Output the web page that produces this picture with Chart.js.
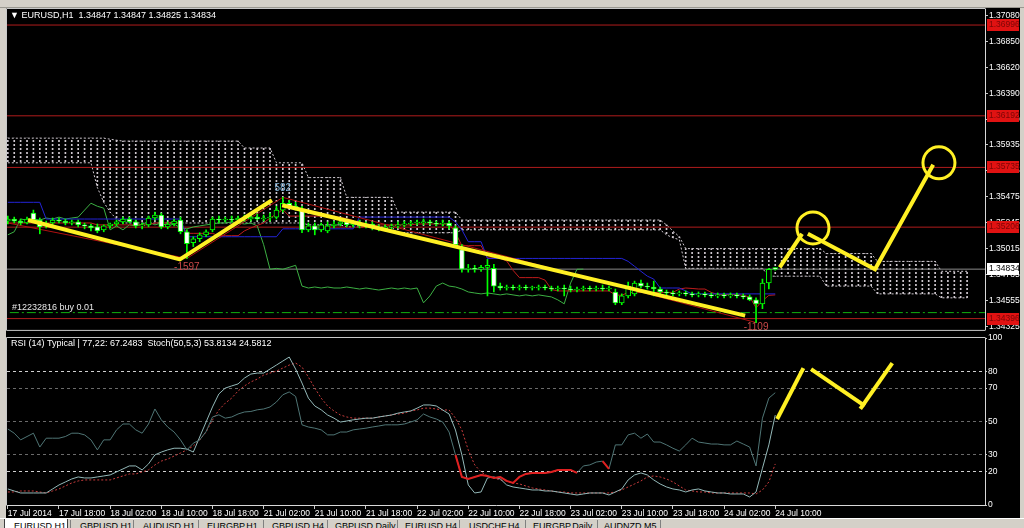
<!DOCTYPE html>
<html><head><meta charset="utf-8">
<script src="https://cdn.jsdelivr.net/npm/chart.js@4.4.1/dist/chart.umd.min.js"></script>
<style>
html,body{margin:0;padding:0;}
body{width:1024px;height:528px;overflow:hidden;position:relative;background:#d4d0c8;font-family:'Liberation Sans Narrow','Liberation Sans',Arial,sans-serif;}
#toolbar{position:absolute;left:0;top:0;width:1024px;height:8px;background:#d4d0c8;border-bottom:1px solid #9a9890;box-sizing:border-box;}
#panel{position:absolute;left:6px;top:8px;width:1014px;height:510px;background:#000;}
#cMain{position:absolute;left:0;top:0;}
#cRsi{position:absolute;left:0;top:330px;}
#tabs{position:absolute;left:0;top:518px;width:1024px;height:10px;background:#d4d0c8;border-top:1px solid #ffffff;box-sizing:border-box;overflow:hidden;}
.tab{position:absolute;top:2px;font-size:9px;line-height:10px;color:#000;white-space:nowrap;}
.sep{position:absolute;top:1px;width:1px;height:9px;background:#808080;}
#active{position:absolute;left:4px;top:0;width:64px;height:10px;background:#ffffff;border-left:1px solid #404040;border-right:1px solid #404040;box-sizing:border-box;}
</style>
</head>
<body>
<div id="toolbar"></div>
<div id="panel"></div>
<canvas id="cMain" width="1024" height="336"></canvas>
<canvas id="cRsi" width="1024" height="188"></canvas>
<div id="tabs">
  <div id="active"></div>
  <div class="tab" style="left:14px">EURUSD,H1</div>
  <div class="sep" style="left:70px"></div><div class="tab" style="left:80px">GBPUSD,H1</div>
  <div class="sep" style="left:133px"></div><div class="tab" style="left:143px">AUDUSD,H1</div>
  <div class="sep" style="left:198px"></div><div class="tab" style="left:207px">EURGBP,H1</div>
  <div class="sep" style="left:263px"></div><div class="tab" style="left:272px">GBPUSD,H4</div>
  <div class="sep" style="left:327px"></div><div class="tab" style="left:335px">GBPUSD,Daily</div>
  <div class="sep" style="left:397px"></div><div class="tab" style="left:405px">EURUSD,H4</div>
  <div class="sep" style="left:459px"></div><div class="tab" style="left:469px">USDCHF,H4</div>
  <div class="sep" style="left:525px"></div><div class="tab" style="left:533px">EURGBP,Daily</div>
  <div class="sep" style="left:597px"></div><div class="tab" style="left:604px">AUDNZD,M5</div>
  <div class="sep" style="left:660px"></div>
</div>
<script>
// ---------------- DATA ----------------
const timeTickIdx = [0,8,16,24,32,40,48,56,64,72,80,88,96,104,112,120];
const timeLabels = ['17 Jul 2014','17 Jul 18:00','18 Jul 02:00','18 Jul 10:00','18 Jul 18:00','21 Jul 02:00','21 Jul 10:00','21 Jul 18:00','22 Jul 02:00','22 Jul 10:00','22 Jul 18:00','23 Jul 02:00','23 Jul 10:00','23 Jul 18:00','24 Jul 02:00','24 Jul 10:00'];
const priceTicks = [1.37080,1.36850,1.36620,1.36390,1.36160,1.35935,1.35705,1.35475,1.35245,1.35015,1.34785,1.34555,1.34325];
const rsiTicks = [0,20,30,50,70,80,100];

const open = [1.35260,1.35278,1.35260,1.35243,1.35330,1.35269,1.35217,1.35243,1.35269,1.35260,
1.35243,1.35252,1.35226,1.35217,1.35208,1.35182,1.35217,1.35234,1.35252,1.35278,
1.35252,1.35217,1.35226,1.35287,1.35313,1.35208,1.35234,1.35269,1.35165,1.35068,
1.35103,1.35138,1.35182,1.35278,1.35269,1.35278,1.35269,1.35287,1.35278,1.35295,
1.35278,1.35287,1.35295,1.35357,1.35418,1.35391,1.35365,1.35182,1.35217,1.35182,
1.35173,1.35217,1.35234,1.35252,1.35226,1.35243,1.35217,1.35234,1.35199,1.35191,
1.35208,1.35217,1.35226,1.35234,1.35243,1.35243,1.35252,1.35243,1.35234,1.35243,
1.35199,1.35007,1.34833,1.34841,1.34833,1.34850,1.34841,1.34684,1.34667,1.34676,
1.34667,1.34676,1.34667,1.34667,1.34676,1.34667,1.34658,1.34667,1.34658,1.34649,
1.34658,1.34667,1.34658,1.34667,1.34658,1.34632,1.34536,1.34597,1.34615,1.34711,
1.34684,1.34676,1.34658,1.34632,1.34623,1.34615,1.34623,1.34615,1.34606,1.34615,
1.34606,1.34597,1.34606,1.34597,1.34606,1.34597,1.34588,1.34562,1.34527,1.34711,
1.34847];
const high = [1.35304,1.35295,1.35278,1.35295,1.35357,1.35287,1.35260,1.35287,1.35287,1.35278,
1.35269,1.35269,1.35243,1.35234,1.35234,1.35226,1.35243,1.35269,1.35295,1.35295,
1.35269,1.35243,1.35304,1.35339,1.35330,1.35252,1.35278,1.35295,1.35182,1.35121,
1.35156,1.35182,1.35295,1.35304,1.35295,1.35304,1.35304,1.35313,1.35322,1.35322,
1.35313,1.35330,1.35391,1.35470,1.35444,1.35426,1.35391,1.35243,1.35243,1.35243,
1.35252,1.35260,1.35278,1.35278,1.35260,1.35269,1.35252,1.35252,1.35226,1.35226,
1.35234,1.35252,1.35260,1.35260,1.35269,1.35278,1.35269,1.35260,1.35269,1.35260,
1.35217,1.35051,1.34876,1.34868,1.34868,1.34920,1.34876,1.34711,1.34693,1.34693,
1.34693,1.34693,1.34684,1.34693,1.34693,1.34684,1.34684,1.34693,1.34684,1.34676,
1.34684,1.34684,1.34684,1.34693,1.34684,1.34658,1.34615,1.34720,1.34728,1.34737,
1.34711,1.34728,1.34676,1.34649,1.34641,1.34641,1.34641,1.34632,1.34632,1.34632,
1.34623,1.34623,1.34623,1.34623,1.34623,1.34615,1.34606,1.34580,1.34746,1.34841,
1.34847];
const low = [1.35234,1.35243,1.35226,1.35234,1.35252,1.35147,1.35199,1.35226,1.35243,1.35226,
1.35226,1.35208,1.35191,1.35173,1.35156,1.35165,1.35199,1.35217,1.35234,1.35243,
1.35199,1.35191,1.35208,1.35269,1.35191,1.35191,1.35217,1.35147,1.34929,1.35034,
1.35077,1.35121,1.35165,1.35243,1.35252,1.35252,1.35252,1.35260,1.35260,1.35269,
1.35260,1.35260,1.35278,1.35339,1.35374,1.35357,1.35156,1.35165,1.35138,1.35165,
1.35156,1.35199,1.35217,1.35208,1.35208,1.35199,1.35199,1.35182,1.35173,1.35173,
1.35191,1.35199,1.35208,1.35217,1.35226,1.35226,1.35226,1.35217,1.35217,1.35191,
1.35034,1.34807,1.34807,1.34807,1.34815,1.34597,1.34632,1.34649,1.34649,1.34649,
1.34649,1.34649,1.34649,1.34649,1.34649,1.34641,1.34641,1.34597,1.34632,1.34632,
1.34641,1.34641,1.34641,1.34641,1.34641,1.34519,1.34519,1.34580,1.34597,1.34667,
1.34658,1.34597,1.34615,1.34606,1.34597,1.34597,1.34597,1.34588,1.34588,1.34588,
1.34580,1.34580,1.34580,1.34580,1.34580,1.34571,1.34554,1.34361,1.34484,1.34658,
1.34825];
const close = [1.35278,1.35260,1.35243,1.35278,1.35269,1.35208,1.35243,1.35269,1.35260,1.35243,
1.35252,1.35226,1.35217,1.35199,1.35173,1.35217,1.35234,1.35252,1.35278,1.35252,
1.35217,1.35226,1.35287,1.35313,1.35208,1.35234,1.35260,1.35165,1.35059,1.35103,
1.35138,1.35165,1.35278,1.35269,1.35278,1.35269,1.35287,1.35278,1.35295,1.35278,
1.35287,1.35295,1.35357,1.35418,1.35391,1.35374,1.35182,1.35217,1.35182,1.35226,
1.35217,1.35234,1.35252,1.35226,1.35243,1.35217,1.35234,1.35199,1.35191,1.35208,
1.35217,1.35226,1.35234,1.35243,1.35243,1.35252,1.35243,1.35234,1.35243,1.35217,
1.35051,1.34833,1.34841,1.34833,1.34850,1.34868,1.34684,1.34667,1.34676,1.34667,
1.34676,1.34667,1.34667,1.34676,1.34667,1.34658,1.34667,1.34658,1.34649,1.34658,
1.34667,1.34658,1.34667,1.34658,1.34667,1.34536,1.34597,1.34684,1.34711,1.34684,
1.34676,1.34658,1.34632,1.34623,1.34615,1.34623,1.34615,1.34606,1.34615,1.34606,
1.34597,1.34606,1.34597,1.34606,1.34597,1.34588,1.34562,1.34527,1.34711,1.34833,
1.34834];

const tenkan = [1.35243,1.35243,1.35243,1.35243,1.35243,1.35243,1.35243,1.35243,1.35243,1.35243,
1.35243,1.35243,1.35243,1.35243,1.35226,1.35226,1.35226,1.35226,1.35226,1.35226,
1.35226,1.35226,1.35226,1.35243,1.35243,1.35243,1.35243,1.35243,1.35151,1.35151,
1.35151,1.35151,1.35151,1.35130,1.35130,1.35130,1.35130,1.35173,1.35199,1.35221,
1.35243,1.35287,1.35322,1.35361,1.35304,1.35304,1.35304,1.35304,1.35304,1.35304,
1.35304,1.35304,1.35291,1.35282,1.35265,1.35208,1.35208,1.35217,1.35226,1.35226,
1.35226,1.35226,1.35226,1.35226,1.35234,1.35234,1.35234,1.35234,1.35234,1.35234,
1.35156,1.35042,1.35042,1.35042,1.35042,1.34933,1.34933,1.34929,1.34907,1.34824,
1.34759,1.34759,1.34759,1.34759,1.34737,1.34654,1.34641,1.34641,1.34641,1.34641,
1.34641,1.34641,1.34641,1.34641,1.34641,1.34606,1.34602,1.34628,1.34628,1.34628,
1.34628,1.34628,1.34628,1.34628,1.34628,1.34658,1.34667,1.34663,1.34658,1.34658,
1.34628,1.34610,1.34610,1.34610,1.34610,1.34602,1.34588,1.34492,1.34554,1.34602,
1.34606];
const kijun = [1.35426,1.35426,1.35426,1.35426,1.35426,1.35426,1.35278,1.35278,1.35278,1.35278,
1.35278,1.35278,1.35278,1.35278,1.35278,1.35278,1.35278,1.35278,1.35278,1.35278,
1.35278,1.35278,1.35278,1.35278,1.35278,1.35278,1.35278,1.35278,1.35121,1.35121,
1.35121,1.35121,1.35121,1.35121,1.35121,1.35121,1.35121,1.35121,1.35121,1.35121,
1.35121,1.35121,1.35121,1.35191,1.35191,1.35191,1.35191,1.35191,1.35191,1.35191,
1.35191,1.35191,1.35191,1.35191,1.35191,1.35295,1.35295,1.35295,1.35295,1.35295,
1.35295,1.35295,1.35295,1.35295,1.35295,1.35295,1.35295,1.35295,1.35295,1.35295,
1.35252,1.35182,1.35077,1.35077,1.35077,1.34929,1.34929,1.34929,1.34929,1.34929,
1.34929,1.34929,1.34929,1.34929,1.34929,1.34929,1.34929,1.34929,1.34929,1.34929,
1.34929,1.34929,1.34929,1.34929,1.34929,1.34929,1.34929,1.34903,1.34859,1.34815,
1.34772,1.34746,1.34667,1.34667,1.34667,1.34667,1.34641,1.34615,1.34615,1.34615,
1.34615,1.34615,1.34615,1.34615,1.34615,1.34615,1.34615,1.34615,1.34615,1.34615,
1.34615];
const spanA = [1.35994,1.35994,1.35994,1.35994,1.35994,1.35994,1.35994,1.35994,1.35994,1.35994,
1.35994,1.35994,1.35994,1.35994,1.35994,1.35994,1.35985,1.35976,1.35968,1.35968,
1.35968,1.35968,1.35968,1.35968,1.35968,1.35968,1.35968,1.35968,1.35968,1.35968,
1.35968,1.35968,1.35968,1.35968,1.35968,1.35968,1.35968,1.35907,1.35907,1.35907,
1.35907,1.35907,1.35776,1.35776,1.35776,1.35776,1.35776,1.35645,1.35645,1.35645,
1.35645,1.35645,1.35645,1.35470,1.35470,1.35470,1.35470,1.35470,1.35470,1.35470,
1.35470,1.35339,1.35339,1.35339,1.35339,1.35339,1.35339,1.35339,1.35339,1.35339,
1.35339,1.35269,1.35269,1.35269,1.35269,1.35269,1.35269,1.35269,1.35269,1.35269,
1.35269,1.35269,1.35269,1.35269,1.35269,1.35269,1.35269,1.35269,1.35269,1.35269,
1.35269,1.35269,1.35269,1.35269,1.35269,1.35269,1.35269,1.35269,1.35269,1.35269,
1.35269,1.35269,1.35269,1.35226,1.35173,1.35121,1.35016,1.35016,1.35016,1.35016,
1.35016,1.35016,1.35016,1.35016,1.35016,1.35016,1.35016,1.35016,1.35016,1.35016,
1.35016,1.35016,1.35016,1.35016,1.35016,1.35016,1.35016,1.35016,1.34972,1.34972,
1.34972,1.34972,1.34972,1.34972,1.34972,1.34972,1.34903,1.34903,1.34903,1.34903,
1.34903,1.34903,1.34903,1.34903,1.34903,1.34903,1.34815,1.34815,1.34815,1.34815,
1.34815];
const spanB = [1.35776,1.35776,1.35776,1.35776,1.35776,1.35776,1.35776,1.35776,1.35776,1.35776,
1.35776,1.35776,1.35776,1.35776,1.35557,1.35426,1.35339,1.35278,1.35243,1.35243,
1.35243,1.35243,1.35243,1.35243,1.35243,1.35243,1.35243,1.35243,1.35243,1.35243,
1.35243,1.35243,1.35243,1.35243,1.35243,1.35243,1.35243,1.35243,1.35243,1.35243,
1.35243,1.35243,1.35243,1.35243,1.35243,1.35243,1.35243,1.35226,1.35226,1.35226,
1.35226,1.35226,1.35226,1.35208,1.35208,1.35208,1.35208,1.35208,1.35208,1.35208,
1.35208,1.35156,1.35156,1.35156,1.35156,1.35156,1.35156,1.35156,1.35156,1.35156,
1.35156,1.35182,1.35182,1.35182,1.35182,1.35182,1.35182,1.35182,1.35182,1.35182,
1.35182,1.35182,1.35182,1.35182,1.35182,1.35182,1.35182,1.35182,1.35182,1.35182,
1.35182,1.35182,1.35182,1.35182,1.35182,1.35182,1.35182,1.35182,1.35182,1.35182,
1.35182,1.35182,1.35182,1.35138,1.35112,1.35095,1.34841,1.34841,1.34841,1.34841,
1.34841,1.34841,1.34841,1.34841,1.34841,1.34841,1.34841,1.34841,1.34841,1.34772,
1.34772,1.34772,1.34772,1.34772,1.34772,1.34772,1.34772,1.34772,1.34684,1.34684,
1.34684,1.34684,1.34684,1.34684,1.34684,1.34684,1.34615,1.34615,1.34615,1.34615,
1.34615,1.34615,1.34615,1.34615,1.34615,1.34615,1.34580,1.34580,1.34580,1.34580,
1.34580];
const chikouShift = 30;

const levels = [1.36996,1.36192,1.35735,1.35206,1.34396];
const currentPrice = 1.34834;
const buyPrice = 1.34449;
const buyLabel = '#12232816 buy 0.01';
const zigzag = [[0,1.35243],[28,1.34929],[43,1.35470],[117,1.34361]];
const zigzagLabels = [['-1597',28,1.34929,'#c84848',9],['582',43,1.35470,'#7fb2d8',-9],['-1109',117,1.34361,'#c84848',5]];
const yellowMain = [
  [[3.15,1.35269],[26.9,1.34920],[41.3,1.35444]],
  [[42.9,1.35400],[115.3,1.34422]],
  [[120.7,1.34850],[124.2,1.35147]],
  [[125.1,1.35147],[135.6,1.34833],[144.7,1.35758]]
];
const circles = [[125.9,1.35199],[145.6,1.35776]];

const rsi = [45.5,43,39,41,43,34.7,40,40,40,41,
43,43,42,39,33,39,39,45,48.5,48.5,
45,43,48.5,57.5,51,46.7,43.7,39,33,37,
39,44,52.7,54,52,52.7,54.5,55.7,56,57,
57.5,58.7,61.7,66,67.7,65,48,46.7,46,45,
42,42,43.7,43.7,45,45.5,46,46.7,47.3,48,
48,48,48.5,49.7,51,54.5,52.7,51.5,49.7,43.7,
30,16.8,15.6,16.8,18,17.4,16.2,16.8,14.4,13.2,
16.8,18.6,19.2,19.2,19.2,19.8,21,21,21,19.2,
23.4,24,25.7,26.3,21.6,36,36,42,43,40,
42.5,37.7,37.7,36,34,32.3,36,40,37.7,37.1,
36.5,36.5,36,36,38.3,36.5,34.7,23.4,52,64,
67.2483];
const stochMain = [9.6,8.4,7.2,7.2,7.2,7.2,7.2,9.6,12,13.8,
15.6,16.8,16.2,16.2,16.8,17.4,18,19.8,21.6,23.4,
23.4,21,24.6,30,31.7,33,34,34,33.5,31.7,
40.7,49.7,58.7,66.5,70,71.3,72.5,76,78.4,79,
79,81.4,83.8,86.2,88.6,81.4,73,64,59.3,57,
53.9,52,49.7,50.3,51,51.5,52,52,52.7,53.3,
53.9,55,55.7,56.3,58,59.9,59.9,59.3,56.9,54.5,
44.9,30,12,7.2,7.8,16.2,16.8,15.6,12,10.8,
10.2,9.6,9,9,8.4,8.4,7.8,7.2,6.6,6,
6.6,7.2,7.2,7.2,6,7.8,9.6,15,18,19.2,
18,15,12.6,10.8,9.6,9,7.8,9,9.6,8.4,
7.8,7.2,7.2,6.6,6.6,6.6,4.8,7.8,22,36,
53.8134];
const stochSignal = [7.8,7.8,8.4,8.4,8.4,7.8,7.2,8.4,9.6,11.4,
13.2,14.4,15,15,15,15,15,16.2,17.4,18.6,
18.6,19.8,21,24,26.3,27.5,29.3,31.1,33,35.3,
38.9,43.7,50.9,56.9,61,64,68.3,71.3,73.7,75.4,
77.8,79,80.2,82,83.8,85,82.6,76.6,70,64,
59.3,56.3,53.9,52.7,52,52,52,52,52.7,53.3,
53.9,54.5,55,56.3,56.9,58,58,57.5,56.9,56.9,
52,44.9,32.9,24,19.8,17.4,16.2,15,14.4,13.2,
12.6,11.4,10.2,9.6,9,8.4,7.8,7.8,7.2,7.2,
7.2,7.2,7.2,7.2,7.2,7.8,9,10.8,12.6,14.4,
16.8,17.4,16.8,15.6,13.8,11.4,9,8.4,7.8,7.8,
7.2,7.2,7.2,7.2,7.2,7.2,7.2,6.6,9,13.8,
24.5812];
const rsiLowLevel = 22;
const yellowRsi = [
  [[120.3,51.5],[124.4,82]],
  [[125.6,81.4],[134.0,59.3]],
  [[133.3,57.5],[138.3,85]]
];

// ---------------- STYLE / BUILD ----------------
const FONT = "'Liberation Sans Narrow','Liberation Sans',Arial,sans-serif";
Chart.defaults.font.family = FONT;
Chart.defaults.font.size = 8.5;
Chart.defaults.color = '#ffffff';
const X_MIN = -0.13, X_MAX = 152.8;
const YEL = '#fff024';
const GREEN = '#00ff00';
const KUMO = '#cfc8cf';

const mainCtx = document.getElementById('cMain').getContext('2d');
const pc = document.createElement('canvas'); pc.width = 1; pc.height = 4;
const pg = pc.getContext('2d'); pg.fillStyle = KUMO; pg.fillRect(0,0,1,2);
const hatch = mainCtx.createPattern(pc, 'repeat');

const pts = arr => arr.map((v,i)=>({x:i,y:v}));
const hline = v => [{x:-5,y:v},{x:200,y:v}];
const lineDs = (data,color,extra) => Object.assign({type:'line',data,borderColor:color,borderWidth:1,pointRadius:0,fill:false,tension:0},extra||{});

const mainDatasets = [];
mainDatasets.push({type:'bar',data:spanA.map((a,i)=>({x:i,y:[spanB[i],a]})),backgroundColor:hatch,borderWidth:0,barThickness:1,grouped:false,order:20});
mainDatasets.push(lineDs(pts(spanA),KUMO,{borderDash:[2,2],order:19}));
mainDatasets.push(lineDs(pts(spanB),KUMO,{borderDash:[2,2],order:19}));
levels.forEach(l=>mainDatasets.push(lineDs(hline(l),'#b01c1c',{order:18})));
mainDatasets.push(lineDs(hline(currentPrice),'#8a8a8a',{order:18}));
mainDatasets.push(lineDs(hline(buyPrice),'#10b010',{borderDash:[9,3,2,3],order:18}));
mainDatasets.push(lineDs(close.slice(chikouShift).map((c,j)=>({x:j,y:c})),'#3cb043',{order:17}));
mainDatasets.push(lineDs(pts(kijun),'#2424d8',{order:16}));
mainDatasets.push(lineDs(pts(tenkan),'#c01c1c',{order:16}));
mainDatasets.push(lineDs(zigzag.map(p=>({x:p[0],y:p[1]})),'#b01010',{order:15}));
mainDatasets.push({type:'bar',data:high.map((h,i)=>({x:i,y:[low[i],h]})),backgroundColor:GREEN,borderWidth:0,barThickness:1,grouped:false,order:12});
mainDatasets.push({type:'bar',data:open.map((o,i)=>({x:i,y:[o,close[i]]})),
  backgroundColor:c=>close[c.dataIndex]>=open[c.dataIndex]?'#000000':'#ffffff',
  borderColor:GREEN,borderWidth:1,borderSkipped:false,barThickness:5,minBarLength:1,grouped:false,order:11});
yellowMain.forEach(seg=>mainDatasets.push(lineDs(seg.map(p=>({x:p[0],y:p[1]})),YEL,{borderWidth:4,order:2})));
mainDatasets.push({type:'line',data:circles.map(p=>({x:p[0],y:p[1]})),showLine:false,pointRadius:16,pointBorderWidth:3,pointBorderColor:YEL,pointBackgroundColor:'rgba(0,0,0,0)',order:1});

const frame = (withBottom) => ({
  id:'frame',
  afterDraw(chart){
    const {ctx,chartArea:a} = chart;
    ctx.save(); ctx.strokeStyle='#c8c8c8'; ctx.lineWidth=1;
    ctx.beginPath();
    ctx.moveTo(a.left-0.5,a.bottom+0.5); ctx.lineTo(a.left-0.5,a.top-0.5); ctx.lineTo(a.right+0.5,a.top-0.5);
    if(withBottom){ ctx.moveTo(a.left-0.5,a.bottom+0.5); ctx.lineTo(a.right+0.5,a.bottom+0.5); }
    ctx.stroke(); ctx.restore();
  }
});

const mainText = {
  id:'mainText',
  afterDatasetsDraw(chart){
    const {ctx,scales:{x,y},chartArea:a} = chart;
    ctx.save();
    ctx.textBaseline='middle'; ctx.textAlign='center';
    ctx.font = "10px "+FONT;
    zigzagLabels.forEach(z=>{ ctx.fillStyle=z[3]; ctx.fillText(z[0], x.getPixelForValue(z[1]), y.getPixelForValue(z[2])+z[4]); });
    ctx.textAlign='left'; ctx.fillStyle='#e8e8e8'; ctx.font = "9px "+FONT;
    ctx.fillText(buyLabel, a.left+5, y.getPixelForValue(buyPrice)-5);
    ctx.restore();
  },
  afterDraw(chart){
    const {ctx,scales:{y},chartArea:a} = chart;
    ctx.save();
    ctx.font = "8.5px "+FONT; ctx.textBaseline='middle'; ctx.textAlign='left';
    levels.forEach(l=>{
      const py = Math.round(y.getPixelForValue(l));
      ctx.fillStyle='#e01212'; ctx.fillRect(a.right+2, py-6, 32, 12);
      ctx.fillStyle='#7a0606'; ctx.fillText(l.toFixed(5), a.right+4, py);
    });
    const cy = Math.round(y.getPixelForValue(currentPrice));
    ctx.fillStyle='#ffffff'; ctx.fillRect(a.right+2, cy-6, 32, 12);
    ctx.fillStyle='#000000'; ctx.fillText(currentPrice.toFixed(5), a.right+4, cy);
    ctx.fillStyle='#ffffff'; ctx.font = "9px "+FONT;
    ctx.fillText('\u25BC EURUSD,H1  1.34847 1.34847 1.34825 1.34834', a.left+3, a.top+7);
    ctx.restore();
  }
};

new Chart(mainCtx, {
  type:'line',
  data:{datasets:mainDatasets},
  options:{
    responsive:false, animation:false, devicePixelRatio:1,
    layout:{autoPadding:false,padding:{left:7,top:9,right:0,bottom:1}},
    plugins:{legend:{display:false},tooltip:{enabled:false}},
    scales:{
      x:{type:'linear',min:X_MIN,max:X_MAX,display:false,offset:false},
      y:{type:'linear',position:'right',min:1.34296,max:1.37138,
         afterFit:s=>{s.width=39;},
         afterBuildTicks:s=>{s.ticks=priceTicks.map(v=>({value:v}));},
         ticks:{autoSkip:false,color:'#ffffff',padding:1,callback:v=>Number(v).toFixed(5)},
         grid:{drawOnChartArea:false,drawTicks:true,tickLength:3,color:'#c8c8c8'},
         border:{display:true,color:'#d8d8d8'}}
    }
  },
  plugins:[frame(true),mainText]
});

// ---------------- RSI PANE ----------------
const rsiRed = rsi.map((v,i)=>(v<rsiLowLevel || (i+1<rsi.length && rsi[i+1]<rsiLowLevel)) ? v : null);
const rsiDatasets = [
  lineDs(pts(stochSignal),'#c83c3c',{borderDash:[2,2],order:5}),
  lineDs(pts(stochMain),'#93b8b8',{order:4}),
  lineDs(pts(rsi),'#4f7575',{order:3}),
  lineDs(pts(rsiRed),'#e02020',{borderWidth:2,spanGaps:false,order:2})
];
yellowRsi.forEach(seg=>rsiDatasets.push(lineDs(seg.map(p=>({x:p[0],y:p[1]})),YEL,{borderWidth:4,order:1})));

const rsiText = {
  id:'rsiText',
  afterDraw(chart){
    const {ctx,chartArea:a} = chart;
    ctx.save(); ctx.fillStyle='#ffffff'; ctx.font="9px "+FONT; ctx.textBaseline='middle'; ctx.textAlign='left';
    ctx.fillText('RSI (14) Typical | 77,22: 67.2483  Stoch(50,5,3) 53.8134 24.5812', a.left+4, a.top+6);
    ctx.restore();
  }
};

new Chart(document.getElementById('cRsi').getContext('2d'), {
  type:'line',
  data:{datasets:rsiDatasets},
  options:{
    responsive:false, animation:false, devicePixelRatio:1,
    layout:{autoPadding:false,padding:{left:7,top:8,right:0,bottom:0}},
    plugins:{legend:{display:false},tooltip:{enabled:false}},
    scales:{
      x:{type:'linear',min:X_MIN,max:X_MAX,position:'bottom',offset:false,
         afterFit:s=>{s.height=13;},
         afterBuildTicks:s=>{s.ticks=timeTickIdx.map(v=>({value:v}));},
         ticks:{autoSkip:false,maxRotation:0,minRotation:0,align:'start',padding:0,color:'#ffffff',callback:(v,i)=>timeLabels[i]},
         grid:{drawOnChartArea:false,drawTicks:true,tickLength:4,color:'#c8c8c8'},
         border:{display:true,color:'#d8d8d8'}},
      y:{type:'linear',position:'right',min:0,max:100,
         afterFit:s=>{s.width=39;},
         afterBuildTicks:s=>{s.ticks=rsiTicks.map(v=>({value:v}));},
         ticks:{autoSkip:false,padding:1,color:'#ffffff'},
         grid:{drawOnChartArea:true,drawTicks:true,tickLength:2,tickColor:'#c8c8c8',
               color:c=>{const v=c.tick?c.tick.value:null; if(v===20||v===80) return '#d0d0d0'; if(v===30||v===50||v===70) return '#6a6a6a'; return 'rgba(0,0,0,0)';}},
         border:{display:true,color:'#d8d8d8',dash:[3,3]}}
    }
  },
  plugins:[frame(false),rsiText]
});
</script>
</body></html>
